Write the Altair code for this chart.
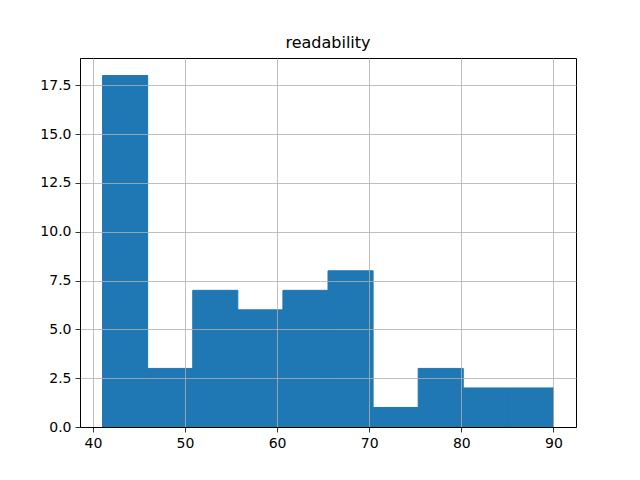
import altair as alt
import pandas as pd

# Histogram of "readability": bin edges and counts
bin_start = 41.05
bin_width = 4.895
counts = [18, 3, 7, 6, 7, 8, 1, 3, 2, 2]
x_ticks = [40, 50, 60, 70, 80, 90]
y_ticks = [0, 2.5, 5, 7.5, 10, 12.5, 15, 17.5]

edges = [bin_start + i * bin_width for i in range(len(counts) + 1)]
df = pd.DataFrame({
    "lo": edges[:-1],
    "hi": edges[1:],
    "count": counts,
})

bars = alt.Chart(df).mark_rect(color="#1f77b4", stroke="#1f77b4", strokeWidth=1).encode(
    x=alt.X("lo:Q",
            scale=alt.Scale(domain=[38.6, 92.45], nice=False, zero=False),
            axis=alt.Axis(values=x_ticks, title=None, format="d", grid=True, zindex=1)),
    x2="hi:Q",
    y=alt.Y("count:Q",
            scale=alt.Scale(domain=[0, 18.9], nice=False),
            axis=alt.Axis(values=y_ticks, title=None, format=".1f", grid=True, zindex=1)),
    y2=alt.datum(0),
)

chart = bars.properties(
    width=496,
    height=369,
    background="white",
    title=alt.TitleParams("readability", fontSize=16, font="DejaVu Sans",
                          fontWeight="normal", color="black", offset=7),
    autosize="none",
    padding={"left": 80, "top": 58, "right": 64, "bottom": 53},
).configure_view(
    stroke="black", strokeWidth=1
).configure_axis(
    gridColor="#b0b0b0",
    gridWidth=0.8,
    gridOpacity=1,
    domainColor="black",
    domainWidth=1,
    tickColor="black",
    tickSize=5,
    tickWidth=0.8,
    labelPadding=4,
    labelFont="DejaVu Sans",
    labelFontSize=14,
    labelColor="black",
)

chart.save("out.html", embed_options={"renderer": "svg", "actions": False})
